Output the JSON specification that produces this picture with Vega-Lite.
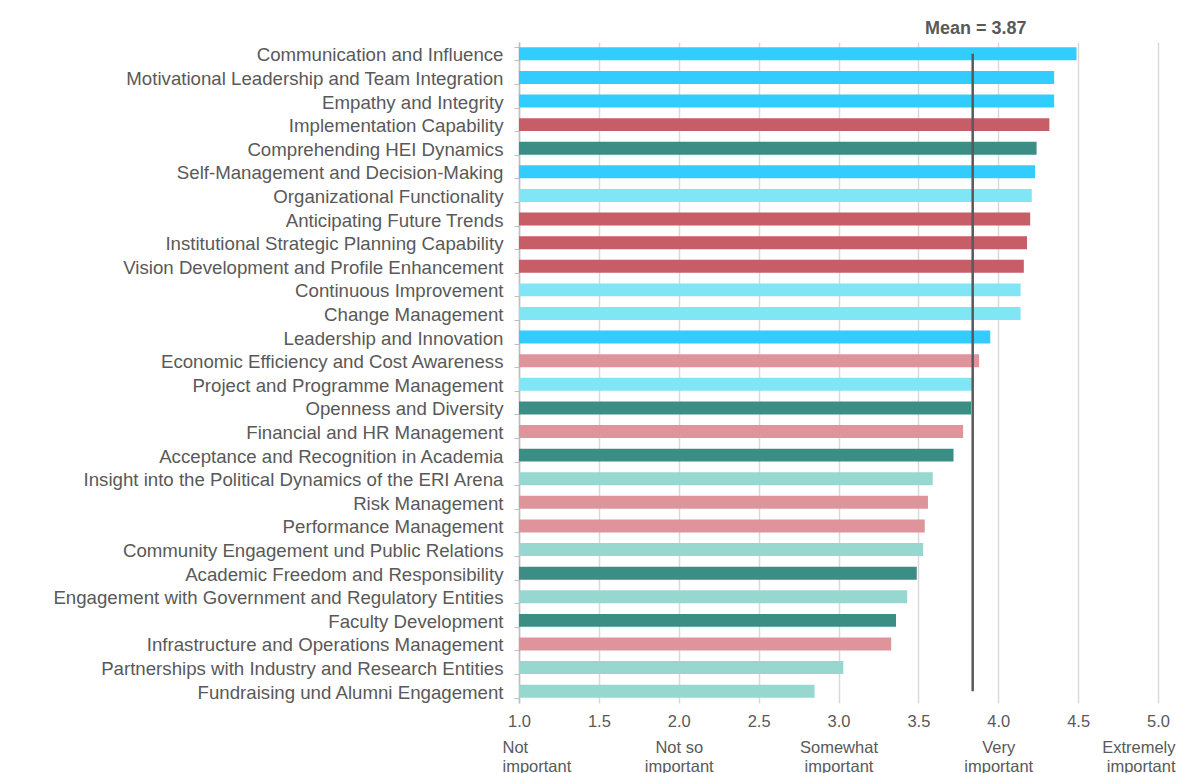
{
  "$schema": "https://vega.github.io/schema/vega-lite/v6.json",
  "width": 639,
  "height": 661,
  "autosize": {"type": "none"},
  "padding": {"left": 519, "top": 42, "right": 31, "bottom": 70},
  "background": "white",
  "config": {
    "view": {"stroke": null},
    "font": "Liberation Sans"
  },
  "datasets": {
    "skills": [
      {"name": "Communication and Influence", "value": 4.49, "group": "A"},
      {"name": "Motivational Leadership and Team Integration", "value": 4.35, "group": "A"},
      {"name": "Empathy and Integrity", "value": 4.35, "group": "A"},
      {"name": "Implementation Capability", "value": 4.32, "group": "B"},
      {"name": "Comprehending HEI Dynamics", "value": 4.24, "group": "C"},
      {"name": "Self-Management and Decision-Making", "value": 4.23, "group": "A"},
      {"name": "Organizational Functionality", "value": 4.21, "group": "D"},
      {"name": "Anticipating Future Trends", "value": 4.20, "group": "B"},
      {"name": "Institutional Strategic Planning Capability", "value": 4.18, "group": "B"},
      {"name": "Vision Development and Profile Enhancement", "value": 4.16, "group": "B"},
      {"name": "Continuous Improvement", "value": 4.14, "group": "D"},
      {"name": "Change Management", "value": 4.14, "group": "D"},
      {"name": "Leadership and Innovation", "value": 3.95, "group": "A"},
      {"name": "Economic Efficiency and Cost Awareness", "value": 3.88, "group": "E"},
      {"name": "Project and Programme Management", "value": 3.84, "group": "D"},
      {"name": "Openness and Diversity", "value": 3.83, "group": "C"},
      {"name": "Financial and HR Management", "value": 3.78, "group": "E"},
      {"name": "Acceptance and Recognition in Academia", "value": 3.72, "group": "C"},
      {"name": "Insight into the Political Dynamics of the ERI Arena", "value": 3.59, "group": "F"},
      {"name": "Risk Management", "value": 3.56, "group": "E"},
      {"name": "Performance Management", "value": 3.54, "group": "E"},
      {"name": "Community Engagement und Public Relations", "value": 3.53, "group": "F"},
      {"name": "Academic Freedom and Responsibility", "value": 3.49, "group": "C"},
      {"name": "Engagement with Government and Regulatory Entities", "value": 3.43, "group": "F"},
      {"name": "Faculty Development", "value": 3.36, "group": "C"},
      {"name": "Infrastructure and Operations Management", "value": 3.33, "group": "E"},
      {"name": "Partnerships with Industry and Research Entities", "value": 3.03, "group": "F"},
      {"name": "Fundraising und Alumni Engagement", "value": 2.85, "group": "F"}
    ],
    "mean": [
      {"mean": 3.84, "label": "Mean = 3.87", "first": "Communication and Influence", "last": "Fundraising und Alumni Engagement"}
    ]
  },
  "resolve": {"axis": {"x": "independent"}},
  "layer": [
    {
      "data": {"name": "skills"},
      "mark": {"type": "bar", "orient": "horizontal"},
      "encoding": {
        "y": {
          "field": "name",
          "type": "nominal",
          "sort": null,
          "scale": {
            "paddingInner": 0.45,
            "paddingOuter": 0.225,
            "domain": [
              "Communication and Influence",
              "Motivational Leadership and Team Integration",
              "Empathy and Integrity",
              "Implementation Capability",
              "Comprehending HEI Dynamics",
              "Self-Management and Decision-Making",
              "Organizational Functionality",
              "Anticipating Future Trends",
              "Institutional Strategic Planning Capability",
              "Vision Development and Profile Enhancement",
              "Continuous Improvement",
              "Change Management",
              "Leadership and Innovation",
              "Economic Efficiency and Cost Awareness",
              "Project and Programme Management",
              "Openness and Diversity",
              "Financial and HR Management",
              "Acceptance and Recognition in Academia",
              "Insight into the Political Dynamics of the ERI Arena",
              "Risk Management",
              "Performance Management",
              "Community Engagement und Public Relations",
              "Academic Freedom and Responsibility",
              "Engagement with Government and Regulatory Entities",
              "Faculty Development",
              "Infrastructure and Operations Management",
              "Partnerships with Industry and Research Entities",
              "Fundraising und Alumni Engagement"
            ]
          },
          "axis": {
            "title": null,
            "domain": true,
            "domainColor": "#bfbfbf",
            "domainWidth": 1.5,
            "ticks": true,
            "tickBand": "extent",
            "tickSize": 5,
            "tickColor": "#bfbfbf",
            "labelPadding": 11,
            "labelFontSize": 18.67,
            "labelColor": "#595959",
            "labelLimit": 600,
            "labelOffset": 1,
            "grid": false
          }
        },
        "x": {
          "field": "value",
          "type": "quantitative",
          "scale": {"domain": [1, 5], "nice": false, "zero": false},
          "axis": {
            "title": null,
            "orient": "bottom",
            "values": [1, 1.5, 2, 2.5, 3, 3.5, 4, 4.5, 5],
            "format": ".1f",
            "grid": true,
            "gridColor": "#d9d9d9",
            "gridWidth": 1.5,
            "domain": false,
            "ticks": false,
            "labelFontSize": 16.5,
            "labelColor": "#595959",
            "labelPadding": 10,
            "labelOverlap": false,
            "labelFlush": false
          }
        },
        "x2": {"datum": 1},
        "color": {
          "field": "group",
          "type": "nominal",
          "legend": null,
          "scale": {
            "domain": ["A", "B", "C", "D", "E", "F"],
            "range": ["#33CCFF", "#C65D67", "#3A8E84", "#80E6F5", "#DF949B", "#96D7CF"]
          }
        }
      }
    },
    {
      "data": {"name": "mean"},
      "mark": {"type": "rule", "color": "#595959", "strokeWidth": 2.5},
      "encoding": {
        "x": {
          "field": "mean",
          "type": "quantitative",
          "axis": {
            "title": null,
            "orient": "bottom",
            "values": [1, 2, 3, 4, 5],
            "labelExpr": "datum.value == 1 ? ['Not', 'important'] : datum.value == 2 ? ['Not so', 'important'] : datum.value == 3 ? ['Somewhat', 'important'] : datum.value == 4 ? ['Very', 'important'] : ['Extremely', 'important']",
            "grid": false,
            "domain": false,
            "ticks": false,
            "labelFontSize": 16.5,
            "labelColor": "#595959",
            "labelPadding": 36,
            "labelLineHeight": 19,
            "labelFlush": true,
            "labelFlushOffset": 17,
            "labelOverlap": false
          }
        },
        "y": {"field": "first", "type": "nominal"},
        "y2": {"field": "last"}
      }
    },
    {
      "data": {"name": "mean"},
      "mark": {"type": "text", "fontWeight": "bold", "fontSize": 18, "color": "#595959", "dy": -25, "dx": 3},
      "encoding": {
        "x": {"field": "mean", "type": "quantitative", "axis": null},
        "y": {"field": "first", "type": "nominal"},
        "text": {"field": "label"}
      }
    }
  ]
}
